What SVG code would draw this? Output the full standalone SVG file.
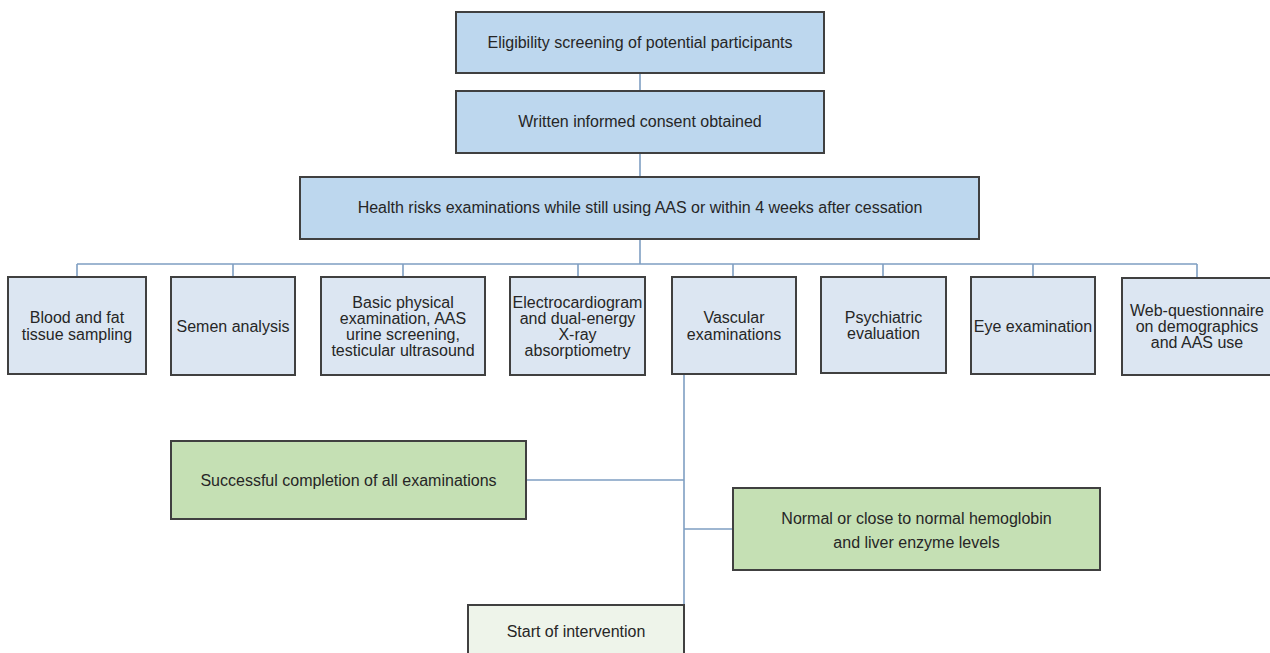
<svg xmlns="http://www.w3.org/2000/svg" width="1270" height="653" viewBox="0 0 1270 653">
<style>
.b{stroke:#404040;stroke-width:2}
.top{fill:#bdd7ee}
.row{fill:#dce6f2}
.grn{fill:#c5e0b4}
.st{fill:#eef4ea}
text{font-family:"Liberation Sans",Arial,sans-serif;font-size:16px;fill:#262626;text-anchor:middle}
.c{stroke:#7f9fc2;stroke-width:1.6;fill:none}
</style>
<rect width="1270" height="653" fill="#ffffff"/>
<g id="connectors">
<path class="c" d="M640 73V91M640 153V177M640 239V264M77 264H1197M77 264V277M233 264V277M403 264V277M578 264V277M733 264V277M883 264V277M1033 264V277M1197 264V278M684 375V605M526 480H684M684 529H733"/>
</g>
<g id="n1"><rect class="b top" x="456" y="12" width="368" height="61"/><text x="640" y="48">Eligibility screening of potential participants</text></g>
<g id="n2"><rect class="b top" x="456" y="91" width="368" height="62"/><text x="640" y="127">Written informed consent obtained</text></g>
<g id="n3"><rect class="b top" x="300" y="177" width="679" height="62"/><text x="640" y="213">Health risks examinations while still using AAS or within 4 weeks after cessation</text></g>
<g id="nA"><rect class="b row" x="8" y="277" width="138" height="97"/><text x="77" y="323">Blood and fat</text><text x="77" y="339.5">tissue sampling</text></g>
<g id="nB"><rect class="b row" x="171" y="277" width="124" height="98"/><text x="233" y="331.5">Semen analysis</text></g>
<g id="nC"><rect class="b row" x="321" y="277" width="164" height="98"/><text x="403" y="307.5">Basic physical</text><text x="403" y="323.8">examination, AAS</text><text x="403" y="340.1">urine screening,</text><text x="403" y="356.4">testicular ultrasound</text></g>
<g id="nD"><rect class="b row" x="510" y="277" width="135" height="98"/><text x="577.5" y="307.5">Electrocardiogram</text><text x="577.5" y="323.8">and dual-energy</text><text x="577.5" y="340.1">X-ray</text><text x="577.5" y="356.4">absorptiometry</text></g>
<g id="nE"><rect class="b row" x="672" y="277" width="124" height="97"/><text x="734" y="323">Vascular</text><text x="734" y="339.5">examinations</text></g>
<g id="nF"><rect class="b row" x="821" y="277" width="125" height="96"/><text x="883.5" y="322.5">Psychiatric</text><text x="883.5" y="339">evaluation</text></g>
<g id="nG"><rect class="b row" x="971" y="277" width="124" height="97"/><text x="1033" y="331.5">Eye examination</text></g>
<g id="nH"><rect class="b row" x="1122" y="278" width="150" height="97"/><text x="1197" y="315.5">Web-questionnaire</text><text x="1197" y="331.8">on demographics</text><text x="1197" y="348.1">and AAS use</text></g>
<g id="g1"><rect class="b grn" x="171" y="441" width="355" height="78"/><text x="348.5" y="485.5">Successful completion of all examinations</text></g>
<g id="g2"><rect class="b grn" x="733" y="488" width="367" height="82"/><text x="916.5" y="523.5">Normal or close to normal hemoglobin</text><text x="916.5" y="547.5">and liver enzyme levels</text></g>
<g id="s1"><rect class="b st" x="468" y="605" width="216" height="60"/><text x="576" y="636.5">Start of intervention</text></g>
</svg>
